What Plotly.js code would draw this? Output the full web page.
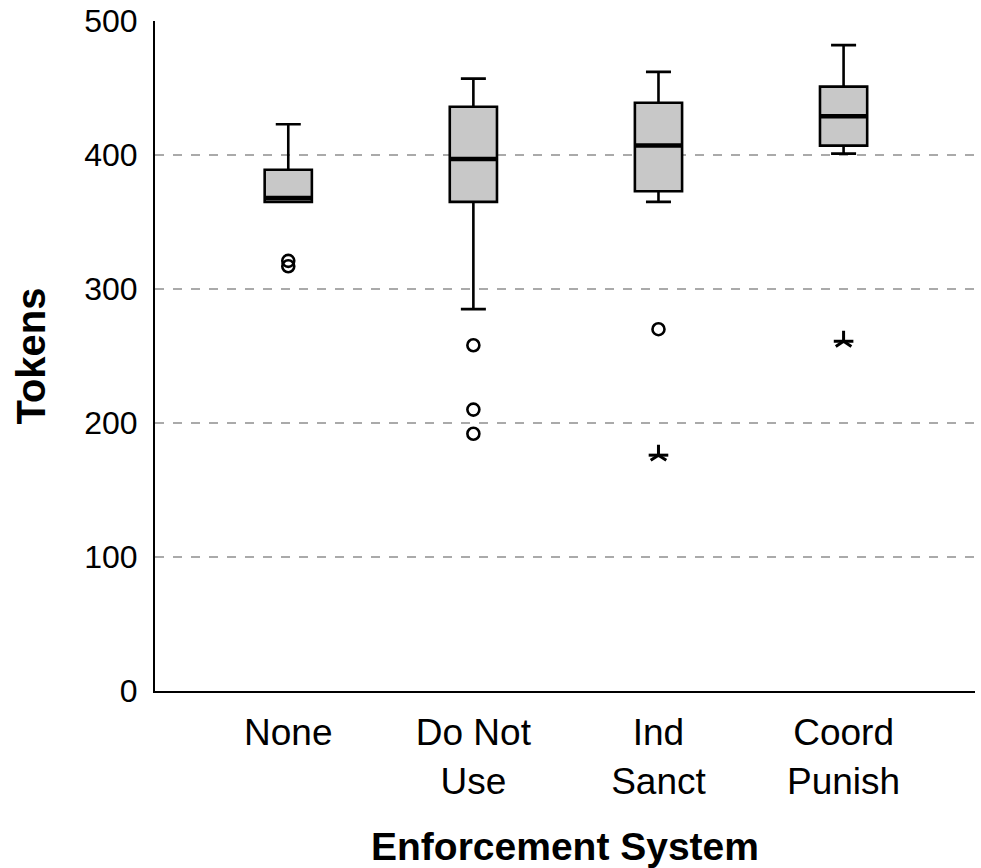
<!DOCTYPE html>
<html>
<head>
<meta charset="utf-8">
<script src="https://cdn.plot.ly/plotly-3.0.1.min.js"></script>
<style>html,body{margin:0;padding:0;background:#fff;}#chart{width:981px;height:868px;}</style>
</head>
<body>
<div id="chart"></div>
<script>
// Categories and tick labels
const categories = ["None", "Do Not<br>Use", "Ind<br>Sanct", "Coord<br>Punish"];
// Box statistics (Tokens)
const lowerWhisker = [365, 285, 365, 401];
const q1Values     = [365, 365, 373, 407];
const medianValues = [368, 397, 407, 429];
const q3Values     = [389, 436, 439, 451];
const upperWhisker = [423, 457, 462, 482];
// Outliers (circles) and extreme values (asterisks)
const outlierCats   = ["None", "None", "Do Not<br>Use", "Do Not<br>Use", "Do Not<br>Use", "Ind<br>Sanct"];
const outlierValues = [321, 317, 258, 210, 192, 270];
const extremeCats   = ["Ind<br>Sanct", "Coord<br>Punish"];
const extremeValues = [176, 261];
const yTicks = [0, 100, 200, 300, 400, 500];

const boxW = 0.255;
const starMarker = (sym, size) => ({
  type: "scatter", mode: "markers", x: extremeCats, y: extremeValues,
  marker: {symbol: sym, size: size, color: "#000", line: {width: 3, color: "#000"}},
  showlegend: false, hoverinfo: "skip"
});
const traces = [
  {
    type: "box", x: categories,
    q1: q1Values, median: medianValues, q3: q3Values,
    lowerfence: lowerWhisker, upperfence: upperWhisker,
    fillcolor: "#c8c8c8", line: {color: "#000", width: 2.6},
    whiskerwidth: 0.53, width: boxW, boxpoints: false, hoverinfo: "skip", showlegend: false
  },
  {
    type: "box", x: categories,
    q1: medianValues, median: medianValues, q3: medianValues,
    lowerfence: medianValues, upperfence: medianValues,
    fillcolor: "rgba(0,0,0,0)", line: {color: "#000", width: 4.5},
    whiskerwidth: 0.5, width: boxW * 0.97, boxpoints: false, hoverinfo: "skip", showlegend: false
  },
  {
    type: "scatter", mode: "markers", x: outlierCats, y: outlierValues,
    marker: {symbol: "circle-open", size: 12, color: "#000", line: {width: 2.6, color: "#000"}},
    showlegend: false, hoverinfo: "skip"
  },
  starMarker("y-up-open", 13),
  starMarker("line-ew-open", 14)
];

const layout = {
  width: 981, height: 868,
  margin: {l: 155, r: 6, t: 21, b: 177},
  paper_bgcolor: "#fff", plot_bgcolor: "#fff",
  font: {family: "Liberation Sans, Arial, sans-serif", color: "#000"},
  boxmode: "overlay",
  xaxis: {
    type: "category", categoryorder: "array", categoryarray: categories,
    range: [-0.72, 3.71],
    showgrid: false, zeroline: false,
    showline: true, linecolor: "#000", linewidth: 2,
    ticks: "", tickfont: {size: 37, color: "#000"},
    ticklabelstandoff: 8,
    title: {text: "<b>Enforcement System</b>", font: {size: 39, color: "#000"}, standoff: 32}
  },
  yaxis: {
    range: [0, 500], tickvals: yTicks, ticktext: yTicks.map(String),
    showgrid: true, gridcolor: "#aaaaaa", gridwidth: 2, griddash: "dash",
    zeroline: false,
    showline: true, linecolor: "#000", linewidth: 2,
    ticks: "", tickfont: {size: 32, color: "#000"},
    ticklabelstandoff: 9,
    title: {text: "<b>Tokens</b>", font: {size: 40, color: "#000"}, standoff: 26}
  }
};

Plotly.newPlot("chart", traces, layout, {displayModeBar: false, staticPlot: true});
</script>
</body>
</html>
